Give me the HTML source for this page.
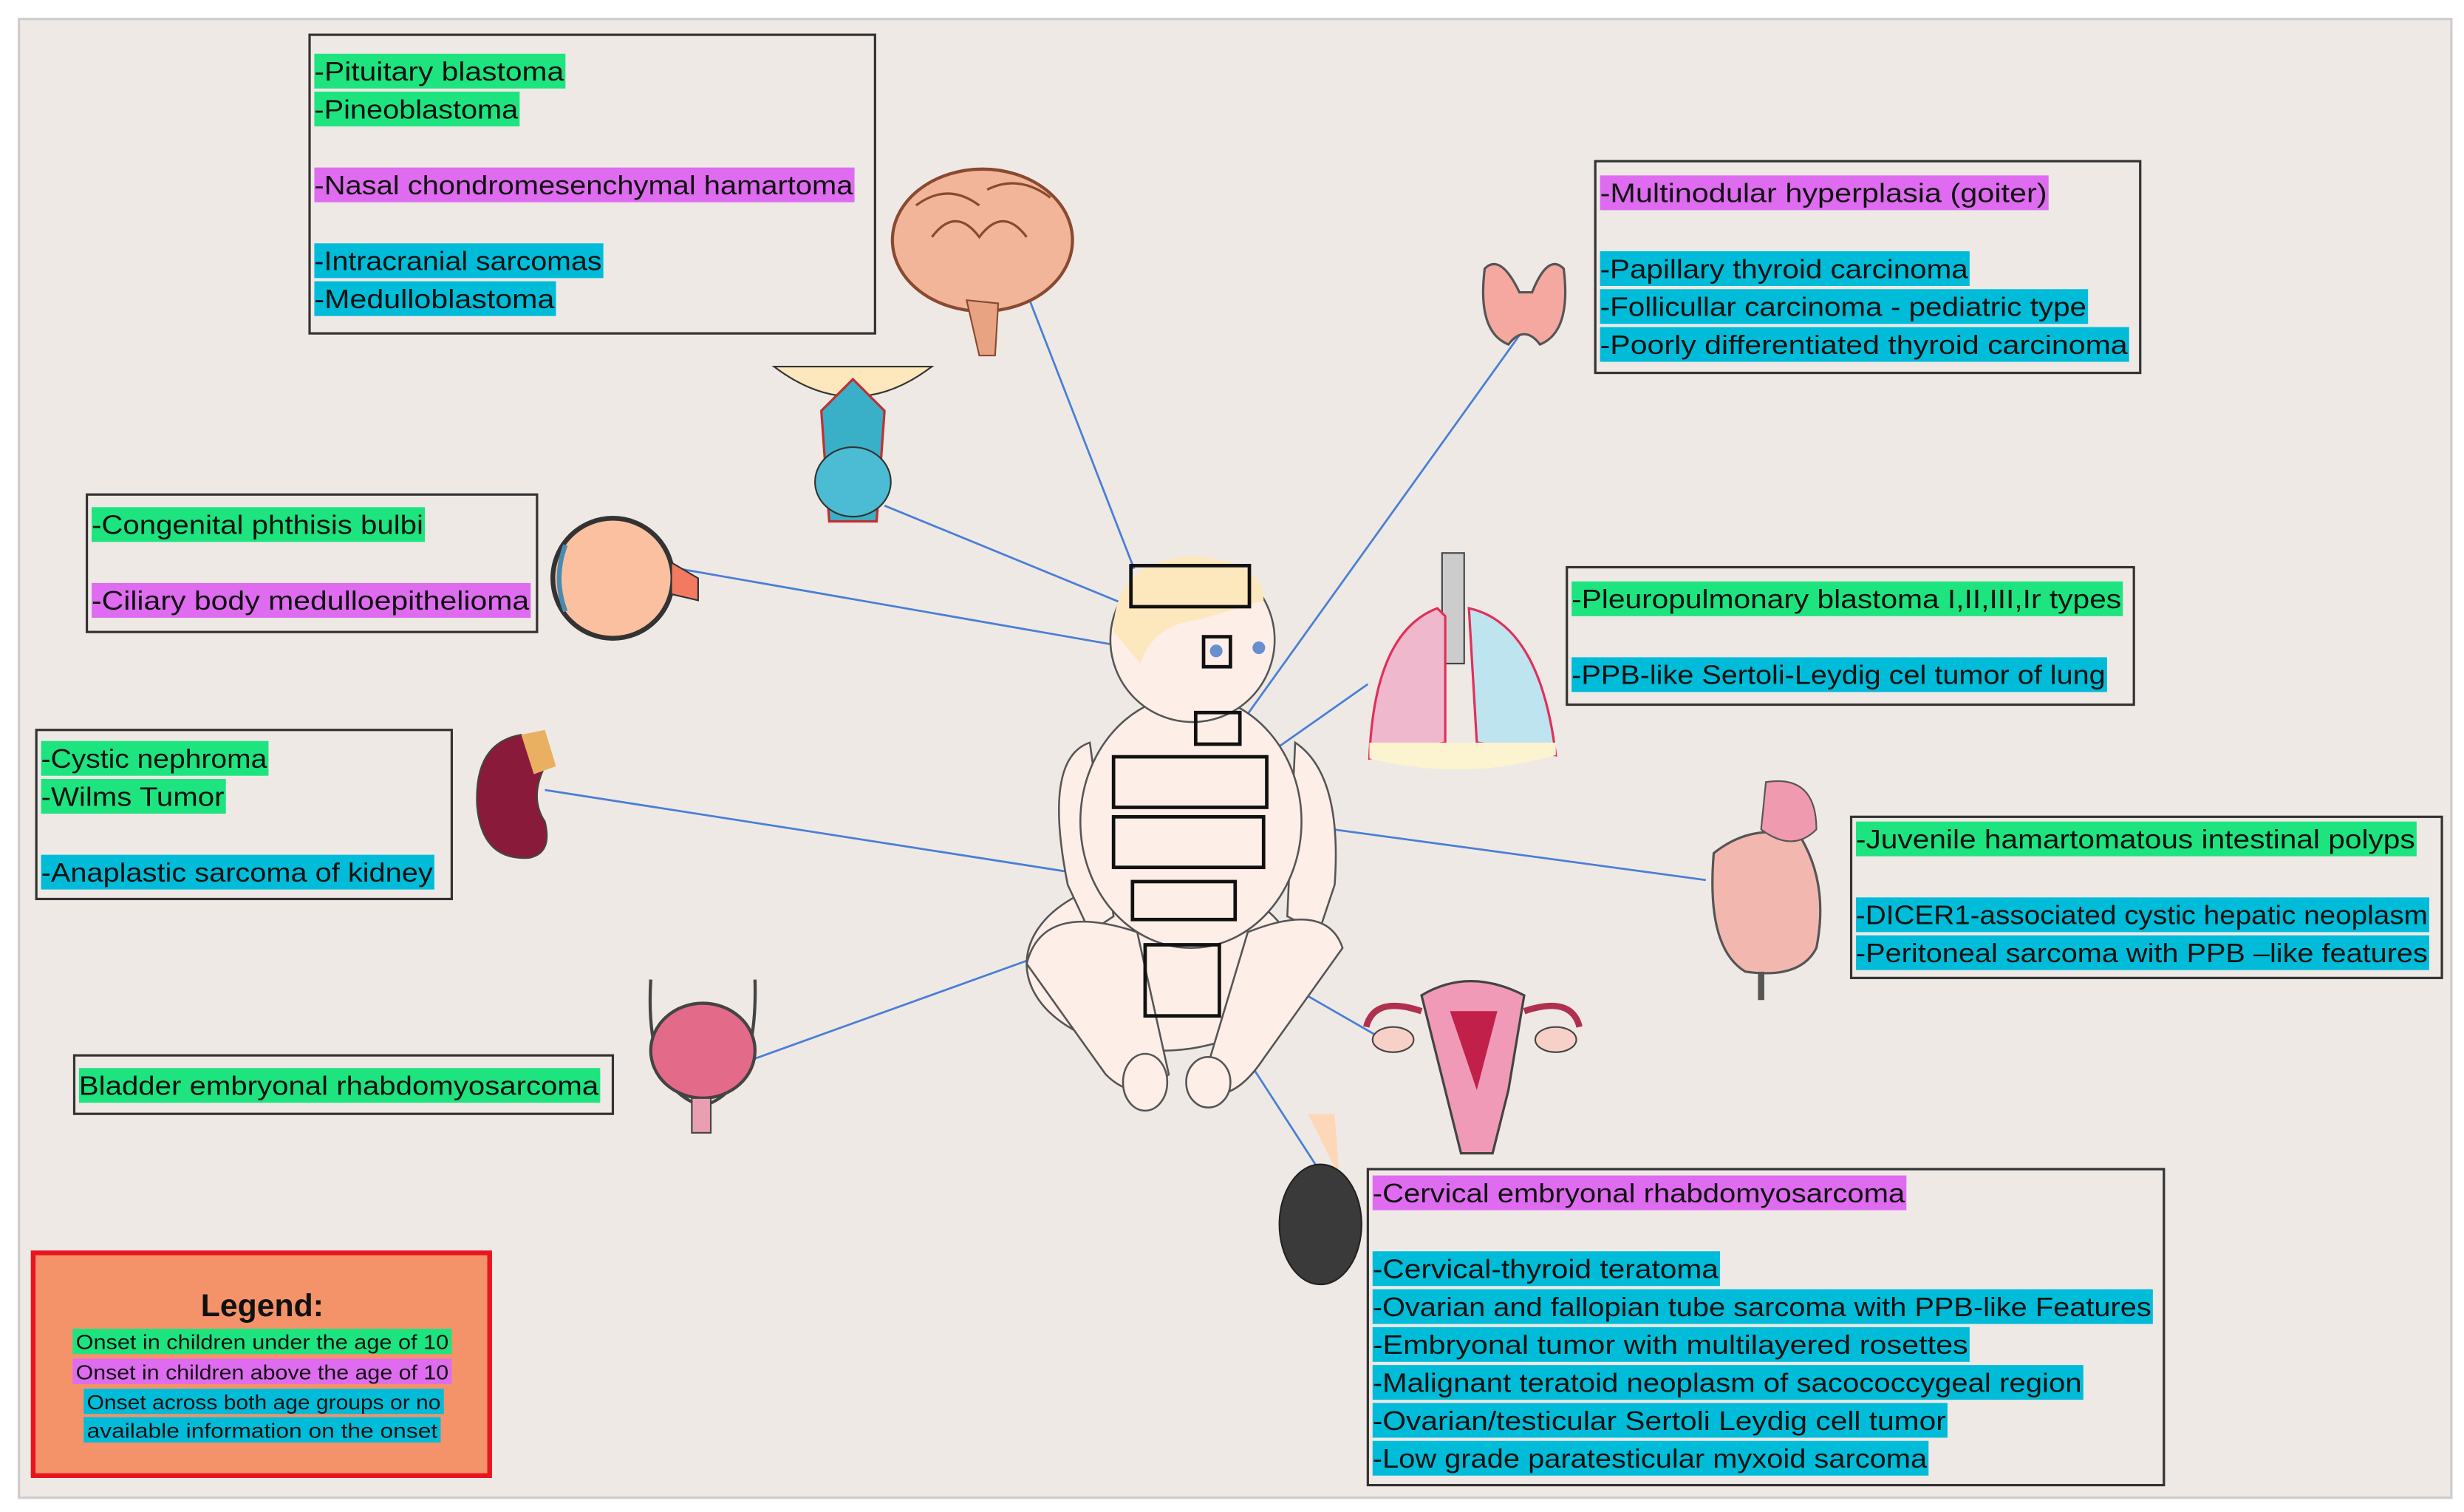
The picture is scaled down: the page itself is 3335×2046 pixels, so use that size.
<!DOCTYPE html>
<html><head><meta charset="utf-8"><style>
html,body{margin:0;padding:0;background:#fff}
svg{display:block}
text{font-family:"Liberation Sans",sans-serif;font-size:17px;fill:#111}
</style></head><body>
<svg width="3335" height="2046" viewBox="0 0 1560 957" xmlns="http://www.w3.org/2000/svg">
<rect x="0" y="0" width="1560" height="957" fill="#fff"/>
<rect x="12" y="12" width="1540" height="936" fill="#efe9e6" stroke="#d0cccc" stroke-width="1.5"/>

<!-- connector lines -->
<g stroke="#4a7fd4" stroke-width="1.3" fill="none">
<line x1="648" y1="180" x2="718" y2="360"/>
<line x1="560" y1="320" x2="716" y2="384"/>
<line x1="430" y1="360" x2="762" y2="418"/>
<line x1="965" y1="208" x2="787" y2="456"/>
<line x1="866" y1="433" x2="802" y2="478"/>
<line x1="345" y1="500" x2="716" y2="558"/>
<line x1="1080" y1="557" x2="800" y2="519"/>
<line x1="478" y1="670" x2="717" y2="584"/>
<line x1="876" y1="658" x2="782" y2="604"/>
<line x1="838" y1="745" x2="772" y2="643"/>
</g>

<!-- baby -->
<g stroke="#555" stroke-width="1.2">
<ellipse cx="735" cy="610" rx="85" ry="55" fill="#fdeee8"/>
<path d="M690 470 Q660 480 676 560 L690 590 L705 580 Z" fill="#fdeee8"/>
<path d="M820 470 Q850 490 845 560 L835 590 L815 580 Z" fill="#fdeee8"/>
<ellipse cx="754" cy="520" rx="70" ry="80" fill="#fdeee8"/>
<path d="M650 610 Q660 570 720 590 L740 680 Q720 700 700 680 Z" fill="#fdeee8"/>
<path d="M850 600 Q840 570 790 590 L760 690 Q780 700 800 670 Z" fill="#fdeee8"/>
<ellipse cx="725" cy="685" rx="14" ry="18" fill="#fdeee8"/>
<ellipse cx="765" cy="685" rx="14" ry="16" fill="#fdeee8"/>
<circle cx="755" cy="405" r="52" fill="#fdeee8"/>
</g>
<path d="M705 400 Q705 355 755 352 Q800 355 800 380 L760 392 Q730 395 722 420 Z" fill="#fde7bc"/>
<circle cx="797" cy="410" r="4" fill="#6a8fd0"/>
<circle cx="770" cy="412" r="4" fill="#6a8fd0"/>
<g fill="none" stroke="#111" stroke-width="2.2">
<rect x="716" y="358" width="75" height="26"/>
<rect x="762" y="403" width="17" height="19"/>
<rect x="757" y="451" width="28" height="20"/>
<rect x="705" y="479" width="97" height="32"/>
<rect x="705" y="517" width="95" height="32"/>
<rect x="717" y="558" width="65" height="24"/>
<rect x="725" y="598" width="47" height="45"/>
</g>

<!-- brain -->
<ellipse cx="622" cy="152" rx="57" ry="45" fill="#f2b59a" stroke="#8a4a30" stroke-width="2"/>
<path d="M590 150 q15 -20 30 0 q15 -20 30 0 M580 130 q20 -15 40 0 M625 120 q20 -10 40 5" stroke="#8a4a30" fill="none" stroke-width="1.5"/>
<path d="M612 190 L620 225 L630 225 L632 192 Z" fill="#e8a482" stroke="#8a4a30"/>
<!-- pituitary -->
<path d="M490 232 Q540 270 590 232 Z" fill="#fde7bc" stroke="#333"/>
<path d="M520 260 L540 240 L560 260 L555 330 L525 330 Z" fill="#3ab0c8" stroke="#c03030" stroke-width="1.5"/>
<ellipse cx="540" cy="305" rx="24" ry="22" fill="#4bbcd4" stroke="#333"/>
<!-- eye -->
<circle cx="388" cy="366" r="38" fill="#fbc0a0" stroke="#333" stroke-width="3"/>
<path d="M425 356 L442 366 L442 380 L425 376 Z" fill="#f27a60" stroke="#333"/>
<path d="M358 345 Q350 366 358 387" stroke="#4a8ab0" stroke-width="3" fill="none"/>
<!-- kidney -->
<path d="M330 465 Q300 470 302 510 Q305 545 335 543 Q350 540 345 520 Q335 505 345 485 Z" fill="#8a1a3a" stroke="#444"/>
<path d="M330 465 L345 462 L352 485 L338 490 Z" fill="#e8b060"/>
<!-- bladder -->
<path d="M412 620 Q408 690 445 700 Q480 690 478 620" fill="none" stroke="#444" stroke-width="2"/>
<ellipse cx="445" cy="665" rx="33" ry="30" fill="#e46a8a" stroke="#444" stroke-width="2"/>
<rect x="438" y="695" width="12" height="22" fill="#e8a0b0" stroke="#444"/>
<!-- thyroid -->
<path d="M940 170 Q935 210 955 218 Q965 205 975 218 Q995 210 990 170 Q980 160 970 185 L962 185 Q950 160 940 170 Z" fill="#f4a8a0" stroke="#555" stroke-width="1.5"/>
<!-- lungs -->
<rect x="913" y="350" width="14" height="70" fill="#ccc" stroke="#444"/>
<path d="M910 385 Q870 400 867 480 L915 470 L915 390 Z" fill="#f0b8cc" stroke="#e0305a" stroke-width="1.5"/>
<path d="M930 385 Q975 395 985 478 L935 470 Z" fill="#bde4ef" stroke="#e0305a" stroke-width="1.5"/>
<path d="M867 480 Q925 495 985 478 L985 470 L867 470 Z" fill="#fcf3d0"/>
<!-- intestine -->
<path d="M1085 540 Q1080 600 1105 615 Q1140 620 1150 600 Q1158 560 1140 530 Q1110 520 1085 540 Z" fill="#f2b8b0" stroke="#555" stroke-width="1.5"/>
<path d="M1118 495 Q1150 490 1150 525 Q1135 540 1115 525 Z" fill="#f09ab0" stroke="#555"/>
<line x1="1115" y1="615" x2="1115" y2="633" stroke="#555" stroke-width="4"/>
<!-- uterus -->
<path d="M900 630 Q930 612 965 630 L955 690 L945 730 L925 730 L915 690 Z" fill="#f09ab8" stroke="#444" stroke-width="1.5"/>
<path d="M918 640 L948 640 L935 690 Z" fill="#c0204a"/>
<path d="M900 640 Q870 630 865 650 M965 640 Q995 630 1000 650" stroke="#b03050" stroke-width="4" fill="none"/>
<ellipse cx="882" cy="658" rx="13" ry="8" fill="#f7d0c8" stroke="#444"/>
<ellipse cx="985" cy="658" rx="13" ry="8" fill="#f7d0c8" stroke="#444"/>
<!-- testis -->
<path d="M828 705 L845 705 L848 745 Z" fill="#fcd8b8"/>
<ellipse cx="836" cy="775" rx="26" ry="38" fill="#3a3a3a" stroke="#222"/>

<!-- boxes -->
<g fill="none" stroke="#333" stroke-width="1.5">
<rect x="196" y="22" width="358" height="189"/>
<rect x="55" y="313" width="285" height="87"/>
<rect x="23" y="462" width="263" height="107"/>
<rect x="47" y="668" width="341" height="37"/>
<rect x="1010" y="102" width="345" height="134"/>
<rect x="992" y="359" width="359" height="87"/>
<rect x="1172" y="517" width="374" height="102"/>
<rect x="866" y="740" width="504" height="200"/>
</g>

<g>
<!-- highlight bars -->
<g fill="#1de47f">
<rect x="199" y="34" width="159" height="22"/><rect x="199" y="58" width="130" height="22"/>
<rect x="58" y="321" width="211" height="22"/>
<rect x="26" y="469" width="144" height="22"/><rect x="26" y="493" width="117" height="22"/>
<rect x="50" y="676" width="330" height="22"/>
<rect x="995" y="368" width="349" height="22"/>
<rect x="1175" y="520" width="355" height="22"/>
</g>
<g fill="#df6cf0">
<rect x="199" y="106" width="342" height="22"/>
<rect x="58" y="369" width="278" height="22"/>
<rect x="1013" y="111" width="284" height="22"/>
<rect x="869" y="744" width="338" height="22"/>
</g>
<g fill="#00bcd9">
<rect x="199" y="154" width="183" height="22"/><rect x="199" y="178" width="153" height="22"/>
<rect x="26" y="541" width="249" height="22"/>
<rect x="1013" y="159" width="234" height="22"/><rect x="1013" y="183" width="309" height="22"/><rect x="1013" y="207" width="335" height="22"/>
<rect x="995" y="416" width="339" height="22"/>
<rect x="1175" y="568" width="363" height="22"/><rect x="1175" y="592" width="363" height="22"/>
<rect x="869" y="792" width="220" height="22"/><rect x="869" y="816" width="494" height="22"/><rect x="869" y="840" width="378" height="22"/><rect x="869" y="864" width="450" height="22"/><rect x="869" y="888" width="364" height="22"/><rect x="869" y="912" width="352" height="22"/>
</g>
</g>

<g lengthAdjust="spacingAndGlyphs">
<text x="199" y="51" textLength="158" lengthAdjust="spacingAndGlyphs">-Pituitary blastoma</text>
<text x="199" y="75" textLength="129" lengthAdjust="spacingAndGlyphs">-Pineoblastoma</text>
<text x="199" y="123" textLength="341" lengthAdjust="spacingAndGlyphs">-Nasal chondromesenchymal hamartoma</text>
<text x="199" y="171" textLength="182" lengthAdjust="spacingAndGlyphs">-Intracranial sarcomas</text>
<text x="199" y="195" textLength="152" lengthAdjust="spacingAndGlyphs">-Medulloblastoma</text>
<text x="58" y="338" textLength="210" lengthAdjust="spacingAndGlyphs">-Congenital phthisis bulbi</text>
<text x="58" y="386" textLength="277" lengthAdjust="spacingAndGlyphs">-Ciliary body medulloepithelioma</text>
<text x="26" y="486" textLength="143" lengthAdjust="spacingAndGlyphs">-Cystic nephroma</text>
<text x="26" y="510" textLength="116" lengthAdjust="spacingAndGlyphs">-Wilms Tumor</text>
<text x="26" y="558" textLength="248" lengthAdjust="spacingAndGlyphs">-Anaplastic sarcoma of kidney</text>
<text x="50" y="693" textLength="329" lengthAdjust="spacingAndGlyphs">Bladder embryonal rhabdomyosarcoma</text>
<text x="1013" y="128" textLength="283" lengthAdjust="spacingAndGlyphs">-Multinodular hyperplasia (goiter)</text>
<text x="1013" y="176" textLength="233" lengthAdjust="spacingAndGlyphs">-Papillary thyroid carcinoma</text>
<text x="1013" y="200" textLength="308" lengthAdjust="spacingAndGlyphs">-Follicullar carcinoma - pediatric type</text>
<text x="1013" y="224" textLength="334" lengthAdjust="spacingAndGlyphs">-Poorly differentiated thyroid carcinoma</text>
<text x="995" y="385" textLength="348" lengthAdjust="spacingAndGlyphs">-Pleuropulmonary blastoma I,II,III,Ir types</text>
<text x="995" y="433" textLength="338" lengthAdjust="spacingAndGlyphs">-PPB-like Sertoli-Leydig cel tumor of lung</text>
<text x="1175" y="537" textLength="354" lengthAdjust="spacingAndGlyphs">-Juvenile hamartomatous intestinal polyps</text>
<text x="1175" y="585" textLength="362" lengthAdjust="spacingAndGlyphs">-DICER1-associated cystic hepatic neoplasm</text>
<text x="1175" y="609" textLength="362" lengthAdjust="spacingAndGlyphs">-Peritoneal sarcoma with PPB –like features</text>
<text x="869" y="761" textLength="337" lengthAdjust="spacingAndGlyphs">-Cervical embryonal rhabdomyosarcoma</text>
<text x="869" y="809" textLength="219" lengthAdjust="spacingAndGlyphs">-Cervical-thyroid teratoma</text>
<text x="869" y="833" textLength="493" lengthAdjust="spacingAndGlyphs">-Ovarian and fallopian tube sarcoma with PPB-like Features</text>
<text x="869" y="857" textLength="377" lengthAdjust="spacingAndGlyphs">-Embryonal tumor with multilayered rosettes</text>
<text x="869" y="881" textLength="449" lengthAdjust="spacingAndGlyphs">-Malignant teratoid neoplasm of sacococcygeal region</text>
<text x="869" y="905" textLength="363" lengthAdjust="spacingAndGlyphs">-Ovarian/testicular Sertoli Leydig cell tumor</text>
<text x="869" y="929" textLength="351" lengthAdjust="spacingAndGlyphs">-Low grade paratesticular myxoid sarcoma</text>
</g>

<!-- legend -->
<rect x="21" y="793" width="289" height="141" fill="#f4926a" stroke="#e8141e" stroke-width="3"/>
<text x="166" y="833" text-anchor="middle" style="font-size:20px;font-weight:bold">Legend:</text>
<rect x="46" y="841" width="240" height="16" fill="#1de47f"/>
<rect x="46" y="860" width="240" height="16" fill="#df6cf0"/>
<rect x="53" y="879" width="228" height="16" fill="#00bcd9"/>
<rect x="53" y="897" width="226" height="16" fill="#00bcd9"/>
<text x="166" y="854" text-anchor="middle" style="font-size:13px" textLength="236" lengthAdjust="spacingAndGlyphs">Onset in children under the age of 10</text>
<text x="166" y="873" text-anchor="middle" style="font-size:13px" textLength="236" lengthAdjust="spacingAndGlyphs">Onset in children above the age of 10</text>
<text x="167" y="892" text-anchor="middle" style="font-size:13px" textLength="224" lengthAdjust="spacingAndGlyphs">Onset across both age groups or no</text>
<text x="166" y="910" text-anchor="middle" style="font-size:13px" textLength="222" lengthAdjust="spacingAndGlyphs">available information on the onset</text>
</svg>
</body></html>
